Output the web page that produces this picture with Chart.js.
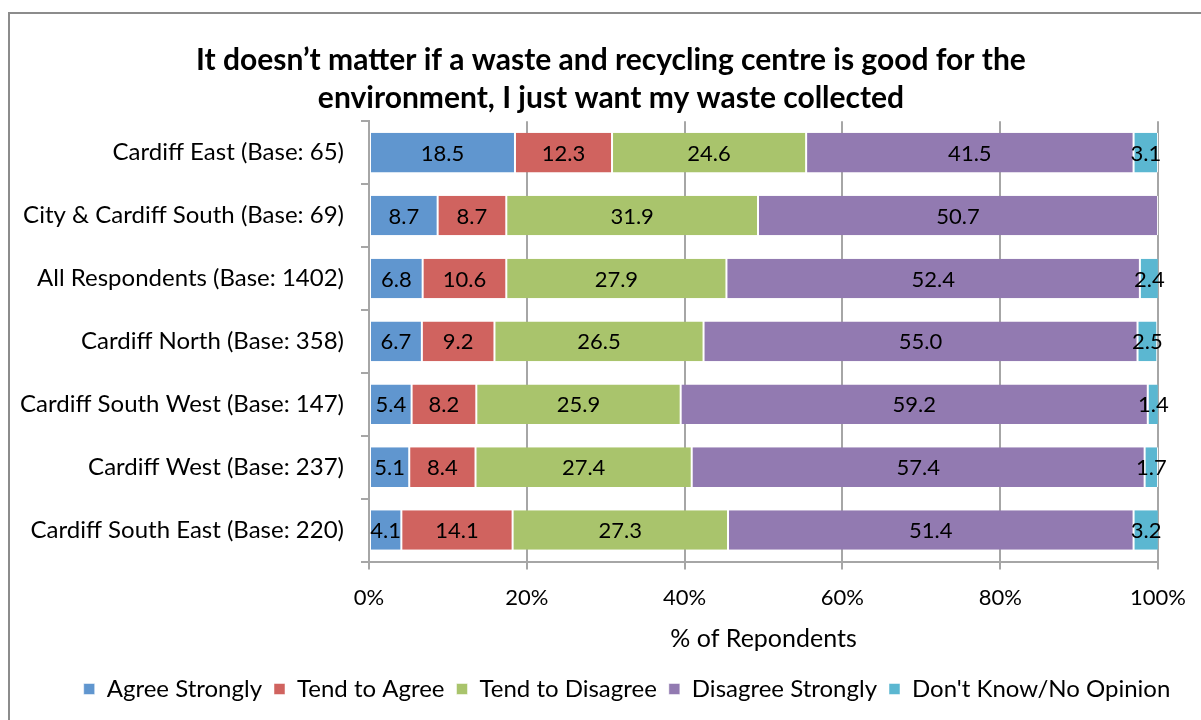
<!DOCTYPE html>
<html>
<head>
<meta charset="utf-8">
<title>Waste collection survey</title>
<script src="https://cdn.jsdelivr.net/npm/chart.js@4.4.1/dist/chart.umd.min.js"></script>
<style>
    html, body { margin: 0; padding: 0; background: #fff; }
    #wrap { width: 1201px; height: 720px; position: relative; }
</style>
</head>
<body>
<div id="wrap"><canvas id="surveyChart" width="1201" height="720"></canvas></div>
<script>
const areas = [
    'Cardiff East (Base: 65)',
    'City & Cardiff South (Base: 69)',
    'All Respondents (Base: 1402)',
    'Cardiff North (Base: 358)',
    'Cardiff South West (Base: 147)',
    'Cardiff West (Base: 237)',
    'Cardiff South East (Base: 220)'
];
const agreeStrongly    = [18.5, 8.7, 6.8, 6.7, 5.4, 5.1, 4.1];
const tendToAgree      = [12.3, 8.7, 10.6, 9.2, 8.2, 8.4, 14.1];
const tendToDisagree   = [24.6, 31.9, 27.9, 26.5, 25.9, 27.4, 27.3];
const disagreeStrongly = [41.5, 50.7, 52.4, 55.0, 59.2, 57.4, 51.4];
const dontKnow         = [3.1, 0, 2.4, 2.5, 1.4, 1.7, 3.2];
const xTicks = [0, 20, 40, 60, 80, 100];

const FONT = 'Lato, "Open Sans", sans-serif';

// grey frame round the whole chart
const framePlugin = {
    id: 'frame',
    beforeDraw(chart) {
        const ctx = chart.ctx;
        ctx.save();
        ctx.strokeStyle = '#8c8c8c';
        ctx.lineWidth = 2;
        ctx.strokeRect(9, 13, 1300, 900);
        ctx.restore();
    }
};

// title and legend are centred on the frame, not on the plot
const centreBlocks = {
    id: 'centreBlocks',
    afterLayout(chart) {
        if (chart.titleBlock) { chart.titleBlock.left = 21; chart.titleBlock.right = 1201; }
        if (chart.legend) { chart.legend.left = 53; chart.legend.right = 1201; }
    }
};

// value in the middle of each segment
const segmentLabels = {
    id: 'segmentLabels',
    afterDatasetsDraw(chart) {
        const ctx = chart.ctx;
        ctx.save();
        ctx.font = '22px ' + FONT;
        ctx.fillStyle = '#000';
        ctx.textAlign = 'center';
        ctx.textBaseline = 'middle';
        chart.data.datasets.forEach((ds, i) => {
            const meta = chart.getDatasetMeta(i);
            meta.data.forEach((bar, j) => {
                const v = ds.data[j];
                if (!v) return;
                const p = bar.getProps(['x', 'y', 'base'], true);
                ctx.fillText(v.toFixed(1), (p.x + p.base) / 2, p.y + 1);
            });
        });
        ctx.restore();
    }
};

document.addEventListener('DOMContentLoaded', function () {
    const mk = (label, data, color) => ({
        label,
        data,
        backgroundColor: color,
        borderColor: '#ffffff',
        borderWidth: { left: 1, right: 1, top: 0, bottom: 0 },
        borderSkipped: false,
        categoryPercentage: 1,
        barPercentage: 0.63
    });

    new Chart(document.getElementById('surveyChart'), {
        type: 'bar',
        data: {
            labels: areas,
            datasets: [
                mk('Agree Strongly', agreeStrongly, '#6096cf'),
                mk('Tend to Agree', tendToAgree, '#d0635f'),
                mk('Tend to Disagree', tendToDisagree, '#a9c46c'),
                mk('Disagree Strongly', disagreeStrongly, '#927ab1'),
                mk("Don't Know/No Opinion", dontKnow, '#5bb7d1')
            ]
        },
        options: {
            indexAxis: 'y',
            responsive: false,
            animation: false,
            layout: { padding: { left: 10, right: 40, top: 0, bottom: 9 } },
            plugins: {
                title: {
                    display: true,
                    text: ['It doesn\u2019t matter if a waste and recycling centre is good for the',
                           'environment, I just want my waste collected'],
                    font: { family: FONT, size: 30, weight: 'bold', lineHeight: 1.27 },
                    color: '#000',
                    padding: { top: 41, bottom: 4 }
                },
                legend: {
                    position: 'bottom',
                    labels: {
                        font: { family: FONT, size: 24 },
                        color: '#000',
                        boxWidth: 11,
                        boxHeight: 11,
                        padding: 12
                    }
                },
                tooltip: { enabled: false }
            },
            scales: {
                x: {
                    stacked: true,
                    min: 0,
                    max: 100,
                    afterBuildTicks: s => { s.ticks = xTicks.map(v => ({ value: v })); },
                    afterFit: s => { s.height = 103.5; },
                    ticks: {
                        callback: v => v + '%',
                        font: { family: FONT, size: 22 },
                        color: '#000',
                        padding: 15,
                        maxRotation: 0
                    },
                    grid: { color: '#a6a6a6', lineWidth: 2, tickLength: 8 },
                    border: { color: '#a6a6a6', width: 2 },
                    title: {
                        display: true,
                        text: '% of Repondents',
                        font: { family: FONT, size: 25 },
                        color: '#000',
                        padding: { top: 10, bottom: 11 }
                    }
                },
                y: {
                    stacked: true,
                    afterFit: s => { s.width = 369 - 10; },
                    ticks: {
                        font: { family: FONT, size: 24 },
                        color: '#000',
                        padding: 17
                    },
                    grid: { drawOnChartArea: false, color: '#a6a6a6', lineWidth: 2, tickLength: 8 },
                    border: { color: '#a6a6a6', width: 2 }
                }
            }
        },
        plugins: [framePlugin, centreBlocks, segmentLabels]
    });
});
</script>
</body>
</html>
